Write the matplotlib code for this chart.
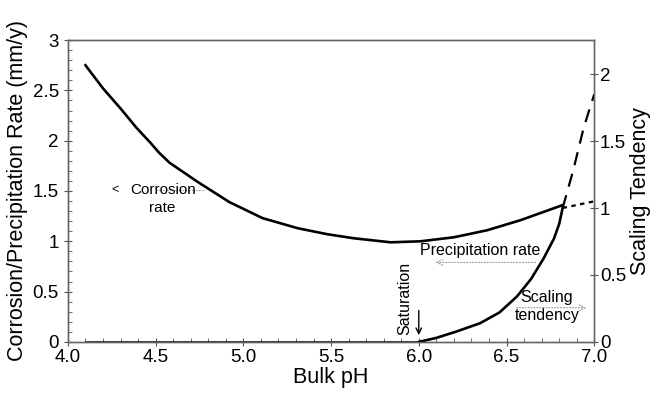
import matplotlib.pyplot as plt
from matplotlib.ticker import MultipleLocator, FormatStrFormatter

plt.rcParams["font.family"] = ["Liberation Sans", "DejaVu Sans"]

# corrosion rate (left axis, mm/y)
corr_ph = [4.10, 4.20, 4.30, 4.39, 4.47, 4.52, 4.58, 4.74, 4.92, 5.11, 5.31, 5.48,
           5.63, 5.84, 6.01, 6.20, 6.39, 6.58, 6.82]
corr_rate = [2.75, 2.52, 2.32, 2.13, 1.98, 1.88, 1.78, 1.59, 1.39, 1.23, 1.13, 1.07,
             1.03, 0.99, 1.00, 1.04, 1.11, 1.21, 1.36]

# precipitation rate is zero below saturation
flat_ph = [4.10, 6.00]
flat_rate = [0.0, 0.0]

# scaling tendency (right axis)
scale_ph = [6.00, 6.10, 6.22, 6.35, 6.46, 6.56, 6.64, 6.71, 6.77, 6.80, 6.82]
scale_val = [0.00, 0.03, 0.08, 0.14, 0.22, 0.34, 0.47, 0.62, 0.77, 0.88, 1.00]
scale_ext_ph = [6.82, 6.88, 6.94, 7.00]
scale_ext_val = [1.00, 1.28, 1.60, 1.85]
dot_ph = [6.82, 7.00]
dot_val = [1.00, 1.05]

fig = plt.figure(figsize=(6.53, 3.93), dpi=100)
ax = fig.add_axes([0.104, 0.130, 0.806, 0.768])
ax2 = ax.twinx()

lw = 1.9
ax.plot(corr_ph, corr_rate, color="black", lw=lw, solid_joinstyle="round")
ax.plot(flat_ph, flat_rate, color="black", lw=lw, solid_capstyle="butt")
ax2.plot(scale_ph, scale_val, color="black", lw=lw, solid_joinstyle="round")
ax2.plot(scale_ext_ph, scale_ext_val, color="black", lw=1.6, dashes=(6, 4))
ax2.plot(dot_ph, dot_val, color="black", lw=1.6, dashes=(2, 2))

ax.set_xlim(4.0, 7.0)
ax.set_ylim(0, 3)
ax2.set_ylim(0, 2.254)

ax.xaxis.set_major_locator(MultipleLocator(0.5))
ax.xaxis.set_minor_locator(MultipleLocator(0.1))
ax.xaxis.set_major_formatter(FormatStrFormatter("%.1f"))
ax.yaxis.set_major_locator(MultipleLocator(0.5))
ax.yaxis.set_minor_locator(MultipleLocator(0.1))
ax.yaxis.set_major_formatter(FormatStrFormatter("%g"))
ax2.yaxis.set_major_locator(MultipleLocator(0.5))
ax2.yaxis.set_major_formatter(FormatStrFormatter("%g"))

ax.tick_params(axis="both", which="major", direction="inout", length=6, width=0.8,
               labelsize=13.5, color="#555555", top=False)
ax.tick_params(axis="both", which="minor", direction="in", length=3, width=0.6,
               color="#555555", top=False)
ax.tick_params(axis="y", right=False)
ax.tick_params(axis="x", pad=2)
ax2.tick_params(axis="y", which="major", direction="inout", length=6, width=0.8,
                labelsize=13.5, color="#555555", pad=1)
ax2.tick_params(axis="y", which="minor", length=0)

for a in (ax, ax2):
    for s in a.spines.values():
        s.set_color("#666666")
        s.set_linewidth(1.0)

ax.set_xlabel("Bulk pH", fontsize=15.5, labelpad=1)
ax.set_ylabel("Corrosion/Precipitation Rate (mm/y)", fontsize=15.5, labelpad=3)
ax2.set_ylabel("Scaling Tendency", fontsize=15.5, labelpad=3)

# annotations
ax.text(4.54, 1.42, "Corrosion\nrate", fontsize=11, ha="center", va="center", linespacing=1.3)
ax.text(4.27, 1.51, "<", fontsize=9, ha="center", va="center")
ax.plot([4.50, 4.78], [1.51, 1.51], color="#999999", lw=0.8, ls=(0, (1, 1)))

ax.text(6.35, 0.91, "Precipitation rate", fontsize=11.5, ha="center", va="center")
ax.annotate("", xy=(6.08, 0.79), xytext=(6.68, 0.79),
            arrowprops=dict(arrowstyle="->", color="#999999", lw=0.8, ls=":"))

ax.text(6.73, 0.35, "Scaling\ntendency", fontsize=11.5, ha="center", va="center", linespacing=1.2)
ax.annotate("", xy=(6.97, 0.34), xytext=(6.54, 0.34),
            arrowprops=dict(arrowstyle="->", color="#999999", lw=0.8, ls=":"))

ax.text(5.92, 0.43, "Saturation", fontsize=11.5, rotation=90, ha="center", va="center")
ax.annotate("", xy=(6.0, 0.04), xytext=(6.0, 0.34),
            arrowprops=dict(arrowstyle="->", color="black", lw=1.0))

fig.savefig("out.png", dpi=100)
